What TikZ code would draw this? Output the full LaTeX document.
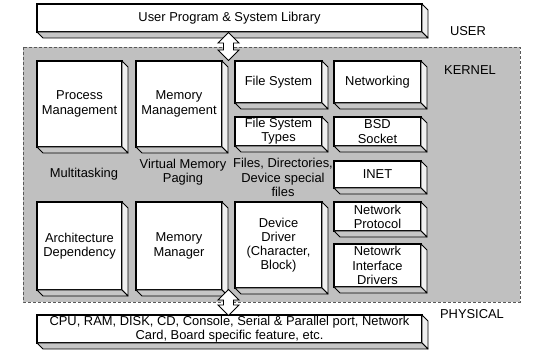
\documentclass[tikz,border=0pt]{standalone}
\usepackage{fontspec}
\setmainfont{Liberation Sans}
\usetikzlibrary{positioning, calc}
\definecolor{kernelgray}{HTML}{C0C0C0}

\newcommand{\extrude}[1]{%
  \draw[sideface] (#1.north east) -- ++(6,6) -- ($(#1.south east)+(6,6)$) -- (#1.south east) -- cycle;
  \draw[bottomface] (#1.south west) -- ++(6,6) -- ($(#1.south east)+(6,6)$) -- (#1.south east) -- cycle;}

% block double arrow: centre, half length
\newcommand{\updown}[2]{%
  \draw[dblarrow] ($(#1)+(0,-#2)$) -- ++(10.5,10.5) -- ++(-5.5,0) -- ++(0,2*#2-21) -- ++(5.5,0)
    -- ($(#1)+(0,#2)$) -- ++(-10.5,-10.5) -- ++(5.5,0) -- ++(0,21-2*#2) -- ++(-5.5,0) -- cycle;}

\begin{document}
\begin{tikzpicture}[
    x=1pt, y=-1pt,
    font=\fontsize{12.9}{14.2}\selectfont,
    slab/.style={rectangle, draw, line width=1.6pt, fill=white, align=center, inner sep=0pt, outer sep=0pt},
    sideface/.style={draw, line width=0.9pt, fill=gray!12, line join=round},
    bottomface/.style={draw, line width=0.9pt, fill=gray!45, line join=round},
    kernelbg/.style={fill=kernelgray, draw=black!65, densely dashed, line width=0.6pt},
    dblarrow/.style={draw, fill=white, line width=0.9pt, line join=miter},
    tag/.style={align=center, inner sep=0pt}
]
\useasboundingbox (0,0) rectangle (550,355);

% kernel region
\draw[kernelbg] (23,47) rectangle (520,302);

\node[slab, minimum width=385pt, minimum height=28pt] (userlib) at (229.5,18) {User Program \& System Library};

\node[slab, minimum width=85pt, minimum height=86pt] (procmgmt) at (79.5,104) {Process\\Management};
\node[slab, minimum width=86pt, minimum height=86pt, right=14pt of procmgmt] (memmgmt) {Memory\\Management};
\node[slab, minimum width=87pt, minimum height=42pt, right=13pt of memmgmt.north east, anchor=north west] (filesys) {File System};
\node[slab, minimum width=87pt, minimum height=42pt, right=12pt of filesys] (netw) {Networking};
\node[slab, minimum width=87pt, minimum height=29pt, below=14pt of filesys] (fstypes) {File System\\Types};
\node[slab, minimum width=87pt, minimum height=29pt, below=14pt of netw] (bsd) {BSD\\Socket};
\node[slab, minimum width=87pt, minimum height=27pt, below=15pt of bsd] (inet) {INET};

\node[slab, minimum width=85pt, minimum height=88pt] (archdep) at (79.5,246) {Architecture\\Dependency};
\node[slab, minimum width=86pt, minimum height=88pt, right=14pt of archdep] (memmgr) {Memory\\Manager};
\node[slab, minimum width=87pt, minimum height=86pt, right=13pt of memmgr.north east, anchor=north west] (devdrv) {Device\\Driver\\(Character,\\Block)};
\node[slab, minimum width=87pt, minimum height=29pt, right=12pt of devdrv.north east, anchor=north west] (netproto) {Network\\Protocol};
\node[slab, minimum width=87pt, minimum height=43pt, below=13pt of netproto] (nicdrv) {Netowrk\\Interface\\Drivers};

\node[slab, minimum width=385pt, minimum height=28pt] (hw) at (229.5,329) {CPU, RAM, DISK, CD, Console, Serial \& Parallel port, Network\\Card, Board specific feature, etc.};

\foreach \n in {userlib, procmgmt, memmgmt, filesys, netw, fstypes, bsd, inet, archdep, memmgr, devdrv, netproto, nicdrv, hw}
  \extrude{\n};

% notes under the boxes
\node[tag] (multi) at (84,174) {Multitasking};
\node[tag] (vmem) at (183,172.5) {Virtual Memory\\Paging};
\node[tag] (files) at (283,177.5) {Files, Directories,\\Device special\\files};

% layer names
\node[tag] (user) at (468,31) {USER};
\node[tag] (kernel) at (470,70) {KERNEL};
\node[tag] (phys) at (472,314) {PHYSICAL};

% block arrows between layers
\coordinate (uparr) at ($(userlib.south -| memmgmt.east)!0.5!(filesys.north west)$);
\coordinate (lowarr) at ($(memmgr.south east)!0.5!(hw.north -| devdrv.west)$);
\updown{uparr}{14}
\updown{lowarr}{13}
\end{tikzpicture}
\end{document}
